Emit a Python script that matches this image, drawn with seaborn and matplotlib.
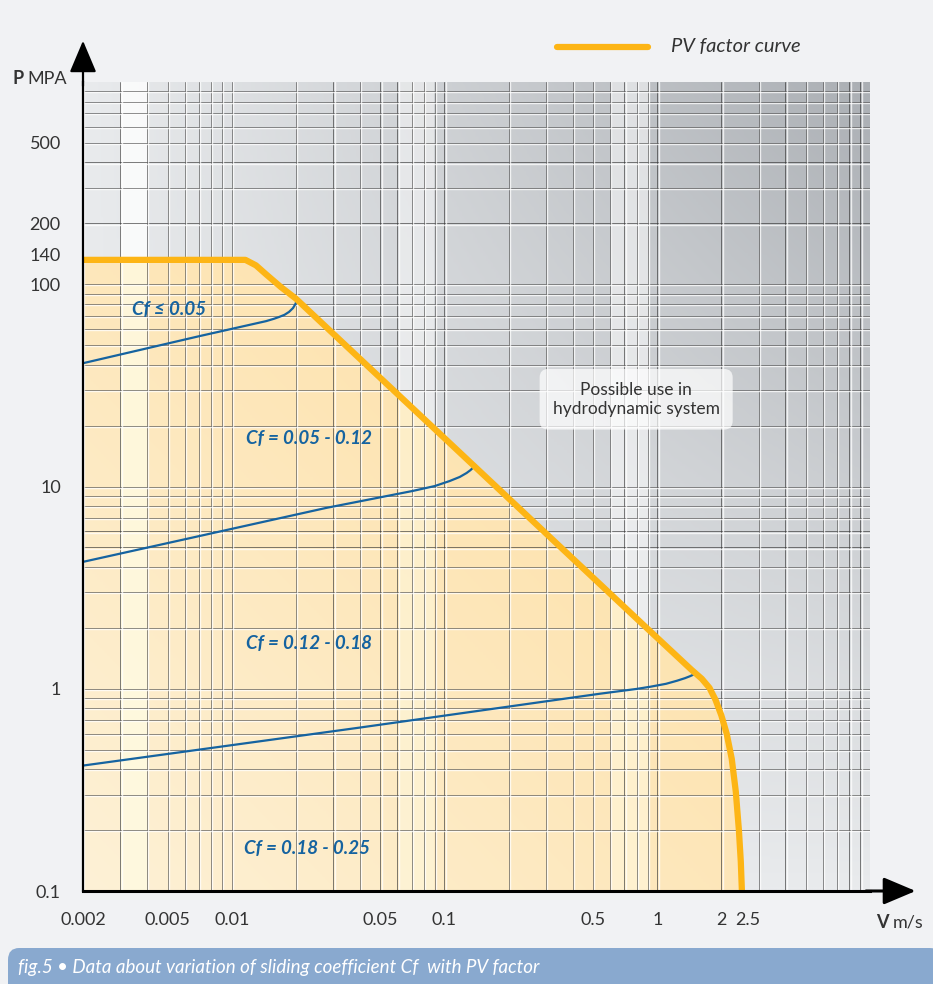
import numpy as np
import matplotlib
matplotlib.use("Agg")
import matplotlib.pyplot as plt
import matplotlib.transforms as mtransforms
import seaborn as sns
from matplotlib.colors import LinearSegmentedColormap
from matplotlib.patches import Polygon, FancyBboxPatch
from matplotlib.lines import Line2D

# PV factor curve: sliding speed V (m/s) vs pressure P (MPa)
pv_v = [0.002, 0.0116, 0.0130, 0.0145, 0.0170, 0.020, 0.90, 1.45, 1.62,
        1.76, 1.88, 2.00, 2.12, 2.24, 2.34, 2.42, 2.47, 2.50]
pv_p = [132, 132, 124, 112, 97, 85, 1.98, 1.24, 1.12,
        1.01, 0.88, 0.74, 0.60, 0.45, 0.31, 0.20, 0.14, 0.10]

# Cf boundary lines
cf1_v = [0.002, 0.007, 0.0145, 0.0158, 0.0167, 0.0177, 0.0186, 0.0194, 0.0199, 0.0203]
cf1_p = [40.7, 55.3, 65.7, 67.5, 68.9, 70.6, 73.0, 76.2, 79.6, 84.0]
cf2_v = [0.002, 0.0277, 0.0707, 0.090, 0.1057, 0.118, 0.127, 0.1325, 0.1365, 0.1395]
cf2_p = [4.24, 7.83, 9.5, 10.05, 10.64, 11.15, 11.66, 12.05, 12.42, 12.8]
cf3_v = [0.002, 0.0397, 0.538, 0.80, 0.927, 1.10, 1.24, 1.35, 1.43, 1.48, 1.51]
cf3_p = [0.417, 0.642, 0.945, 0.998, 1.023, 1.058, 1.096, 1.128, 1.155, 1.175, 1.19]

cf_labels = ["Cf ≤ 0.05", "Cf = 0.05 - 0.12", "Cf = 0.12 - 0.18", "Cf = 0.18 - 0.25"]
cf_label_v = [0.00505, 0.0231, 0.0231, 0.0226]
cf_label_p = [75.3, 17.2, 1.67, 0.162]

x_ticks = [0.002, 0.005, 0.01, 0.05, 0.1, 0.5, 1, 2, 2.5]
x_ticklabels = ["0.002", "0.005", "0.01", "0.05", "0.1", "0.5", "1", "2", "2.5"]
y_ticks = [0.1, 1, 10, 100, 140, 200, 500]
y_ticklabels = ["0.1", "1", "10", "100", "140", "200", "500"]

# lighter vertical bands in the background
bands = [(0.003, 0.004, 0.8), (0.061, 0.089, 0.45), (0.61, 0.92, 0.5)]

ORANGE = "#fdb515"
BLUE = "#1563a0"
TXT = "#333333"
BG = "#f1f2f4"
GRID = "#333333"

sns.set_theme(style="white")
plt.rcParams["font.family"] = ["Lato", "DejaVu Sans"]

fig = plt.figure(figsize=(9.33, 9.84), dpi=100, facecolor=BG)
ax = fig.add_axes([83 / 933, 1 - 891 / 984, (870 - 83) / 933, (891 - 82) / 984])
ax.set_xscale("log")
ax.set_yscale("log")
ax.set_xlim(0.002, 10)
ax.set_ylim(0.1, 1000)
ax.set_autoscale_on(False)
ax.set_facecolor(BG)

# grey background gradient, darker towards the top right
u, v = np.meshgrid(np.linspace(0, 1, 300), np.linspace(0, 1, 300))
grey = LinearSegmentedColormap.from_list("grey", ["#e9ebed", "#abafb4"])
ax.imshow(u * v, cmap=grey, extent=[0, 1, 0, 1], transform=ax.transAxes,
          origin="lower", aspect="auto", zorder=0.1, interpolation="bilinear")

for lo, hi, a in bands:
    ax.axvspan(lo, hi, color="white", alpha=a, lw=0, zorder=0.2)

# orange area under the PV curve
poly = Polygon(np.column_stack([pv_v + [0.002], pv_p + [0.1]]), closed=True,
               transform=ax.transData, facecolor="none", edgecolor="none")
ax.add_patch(poly)
warm = LinearSegmentedColormap.from_list("warm", ["#fef1d6", "#fcd891"])
im = ax.imshow((u + v) / 2, cmap=warm, extent=[0, 1, 0, 1], transform=ax.transAxes,
               origin="lower", aspect="auto", zorder=0.3, interpolation="bilinear")
im.set_clip_path(poly)
for lo, hi, a in bands:
    sp = ax.axvspan(lo, hi, color="#fffbe2", alpha=a, lw=0, zorder=0.4)
    sp.set_clip_path(poly)

# grid: dark lines with a thin white line next to each
xs = [m * 10.0 ** e for e in range(-3, 1) for m in range(1, 10)]
xs = [x for x in xs if 0.002 <= x < 10]
ys = [m * 10.0 ** e for e in range(-1, 3) for m in range(1, 10)]
ys = [y for y in ys if 0.1 < y <= 1000]
for x in xs:
    ax.axvline(x, color=GRID, lw=0.6, alpha=0.75, zorder=0.5)
    ax.axvline(x * 1.014, color="white", lw=1.0, alpha=0.75, zorder=0.55)
for y in ys:
    ax.axhline(y, color=GRID, lw=0.6, alpha=0.75, zorder=0.5)
    ax.axhline(y / 1.013, color="white", lw=1.0, alpha=0.75, zorder=0.55)
ax.grid(False)

# curves
for cv, cp in [(cf1_v, cf1_p), (cf2_v, cf2_p), (cf3_v, cf3_p)]:
    sns.lineplot(x=cv, y=cp, ax=ax, color=BLUE, lw=1.6, sort=False,
                 estimator=None, zorder=3)
sns.lineplot(x=pv_v, y=pv_p, ax=ax, color=ORANGE, lw=4.5, sort=False,
             estimator=None, zorder=4, solid_capstyle="butt", solid_joinstyle="round")

for lab, lx, ly in zip(cf_labels, cf_label_v, cf_label_p):
    ax.text(lx, ly, lab, color=BLUE, fontsize=13.5, fontweight="bold",
            fontstyle="italic", ha="center", va="center", zorder=5)

ax.text(0.796, 27.0, "Possible use in\nhydrodynamic system", color=TXT, fontsize=12.5,
        ha="center", va="center", linespacing=1.2, zorder=5,
        bbox=dict(boxstyle="round,pad=0.75,rounding_size=0.5", fc="white",
                  ec="none", alpha=0.7))

# axes, ticks
for s in ["top", "right"]:
    ax.spines[s].set_visible(False)
ax.spines["left"].set_color("black")
ax.spines["left"].set_linewidth(1.6)
ax.spines["bottom"].set_color("black")
ax.spines["bottom"].set_linewidth(2.2)
ax.spines["left"].set_zorder(6)
ax.spines["bottom"].set_zorder(6)

ax.set_xticks(x_ticks)
ax.set_xticklabels(x_ticklabels)
ax.set_yticks(y_ticks)
ax.set_yticklabels(y_ticklabels)
ax.minorticks_off()
ax.tick_params(axis="x", length=7, width=0.8, color="#d0d0d0", pad=8,
               labelsize=13, labelcolor=TXT)
ax.tick_params(axis="y", length=0, pad=16, labelsize=13, labelcolor=TXT)
# nudge the "2.5" label a little right, as in the original
shift = mtransforms.ScaledTranslation(6 / 100, 0, fig.dpi_scale_trans)
lbl = ax.get_xticklabels()[-1]
lbl.set_transform(lbl.get_transform() + shift)

arrow = dict(arrowstyle="-|>,head_length=0.9,head_width=0.38", color="black",
             lw=2.2, mutation_scale=22, shrinkA=0, shrinkB=0)
ax.annotate("", xy=(1.058, 0), xytext=(0.995, 0), xycoords="axes fraction",
            arrowprops=arrow, annotation_clip=False, zorder=7)
ax.annotate("", xy=(0, 1.051), xytext=(0, 0.995), xycoords="axes fraction",
            arrowprops=dict(arrow, lw=1.6), annotation_clip=False, zorder=7)

# axis titles
fig.text(12 / 933, 1 - 79 / 984, "P", fontsize=13, fontweight="bold", color=TXT,
         va="center")
fig.text(27 / 933, 1 - 79 / 984, "MPA", fontsize=13, color=TXT, va="center")
fig.text(876 / 933, 1 - 922 / 984, "V", fontsize=13, fontweight="bold", color=TXT,
         va="center")
fig.text(893 / 933, 1 - 922 / 984, "m/s", fontsize=13, color=TXT, va="center")

# legend
fig.add_artist(Line2D([557 / 933, 648 / 933], [1 - 47 / 984, 1 - 47 / 984],
                      color=ORANGE, lw=4.5, solid_capstyle="round"))
fig.text(671 / 933, 1 - 47 / 984, "PV factor curve", fontsize=14.5,
         fontstyle="italic", color=TXT, va="center")

# caption bar
fig.add_artist(FancyBboxPatch((8 / 933, -0.05), 1.0, (984 - 948) / 984 + 0.05,
                              boxstyle="round,pad=0,rounding_size=0.012",
                              transform=fig.transFigure, fc="#89a9cf", ec="none"))
fig.text(18 / 933, 1 - 967 / 984,
         "fig.5 • Data about variation of sliding coefficient Cf  with PV factor",
         fontsize=13.5, fontstyle="italic", color="white", va="center")

fig.savefig("out.png", dpi=100, facecolor=BG)
